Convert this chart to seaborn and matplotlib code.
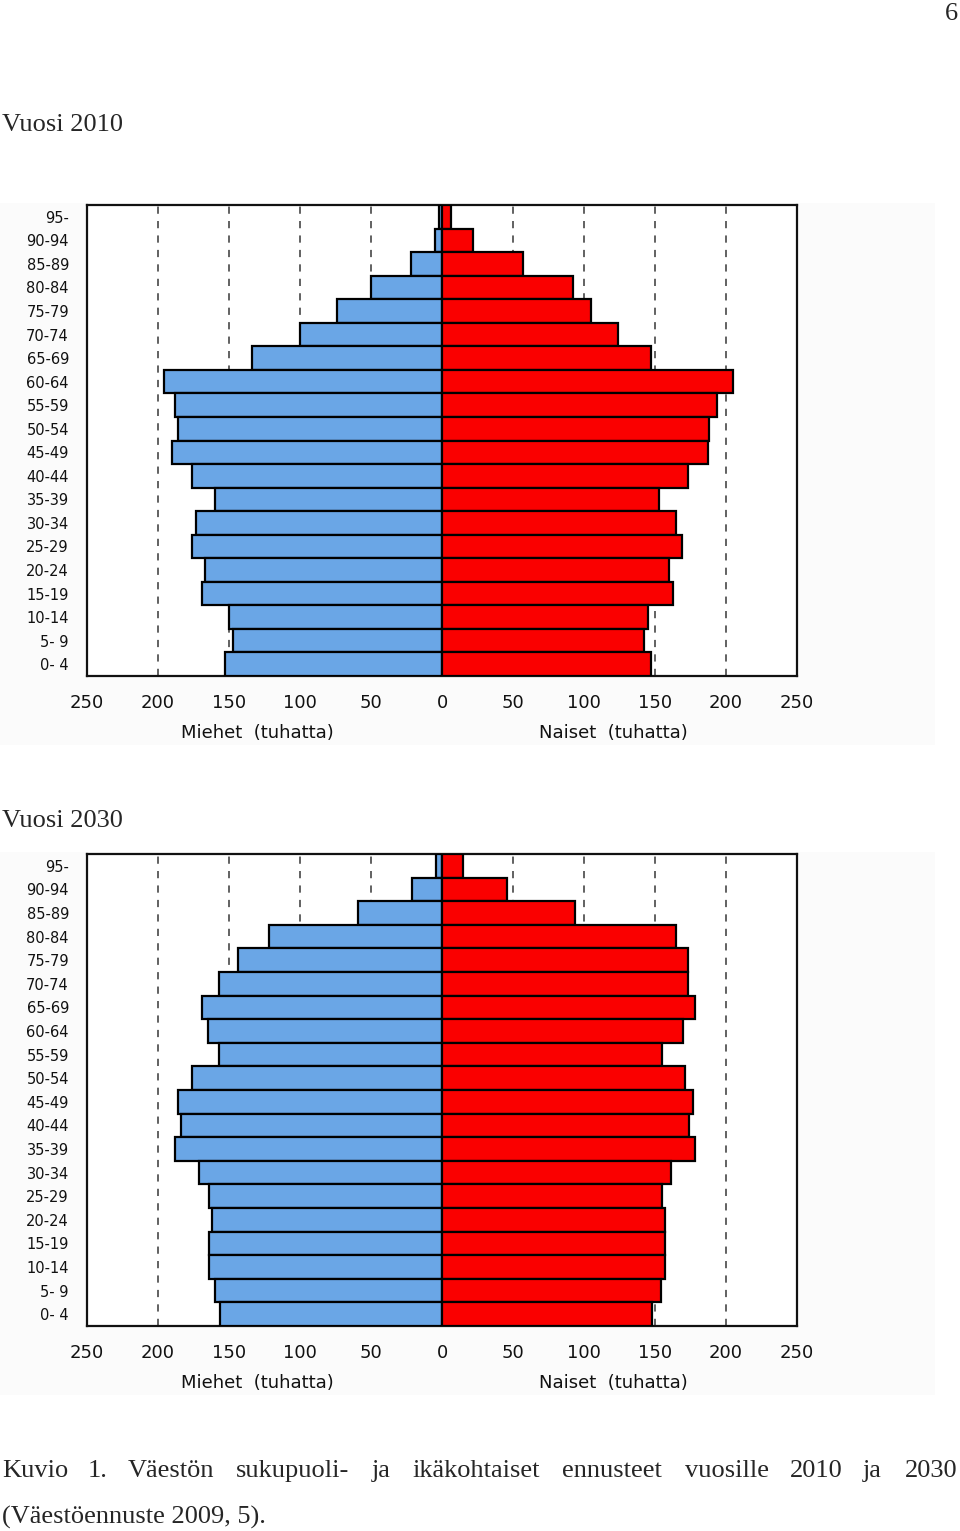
import numpy as np
import pandas as pd
import seaborn as sns
import matplotlib.pyplot as plt
from matplotlib.patches import Rectangle

ages = ["95-", "90-94", "85-89", "80-84", "75-79", "70-74", "65-69", "60-64",
        "55-59", "50-54", "45-49", "40-44", "35-39", "30-34", "25-29", "20-24",
        "15-19", "10-14", "5- 9", "0- 4"]

men_2010 = [2, 5, 22, 50, 74, 100, 134, 196, 188, 186, 190, 176, 160, 173, 176, 167, 169, 150, 147, 153]
women_2010 = [6, 22, 57, 92, 105, 124, 147, 205, 194, 188, 187, 173, 153, 165, 169, 160, 163, 145, 142, 147]
men_2030 = [4, 21, 59, 122, 144, 157, 169, 165, 157, 176, 186, 184, 188, 171, 164, 162, 164, 164, 160, 156]
women_2030 = [15, 46, 94, 165, 173, 173, 178, 170, 155, 171, 177, 174, 178, 161, 155, 157, 157, 157, 154, 148]

tick_vals = [-250, -200, -150, -100, -50, 0, 50, 100, 150, 200, 250]
tick_labels = ["250", "200", "150", "100", "50", "0", "50", "100", "150", "200", "250"]

sns.set_theme(style="white")
plt.rcParams['font.family'] = ['DejaVu Sans']

W, H = 960, 1531
fig = plt.figure(figsize=(W / 100, H / 100), dpi=100)
fig.patch.set_facecolor("white")

BLUE = "#6aa6e6"
RED = "#fa0000"


def fx(px):
    return px / W


def fy(py):
    return 1 - py / H


def pyramid(top_px, bottom_px, men, women):
    # light background panel
    fig.patches.append(Rectangle((0, fy(bottom_px + 69)), fx(935), (bottom_px + 69 - top_px + 2) / H,
                                 transform=fig.transFigure, facecolor="#fbfbfb",
                                 edgecolor="none", zorder=-10))
    ax = fig.add_axes([fx(87), fy(bottom_px), fx(797 - 87), (bottom_px - top_px) / H])
    df = pd.DataFrame({
        "age": ages * 2,
        "value": [-m for m in men] + list(women),
        "sex": ["Miehet"] * len(ages) + ["Naiset"] * len(ages),
    })
    sns.barplot(data=df, y="age", x="value", hue="sex", order=ages,
                palette={"Miehet": BLUE, "Naiset": RED}, dodge=False,
                width=1.0, orient="h", edgecolor="black", linewidth=1.6,
                saturation=1, legend=False, ax=ax, zorder=3)
    ax.set_xlim(-250, 250)
    ax.set_ylim(len(ages) - 0.5, -0.5)
    for v in [-200, -150, -100, -50, 50, 100, 150, 200]:
        ax.axvline(v, color="#555555", lw=1.3, ls=(0, (4, 4)), zorder=1)
    ax.set_xticks(tick_vals)
    ax.set_xticklabels(tick_labels, fontsize=13, color="#111111")
    ax.tick_params(axis="x", length=0, pad=13)
    ax.tick_params(axis="y", length=0, pad=13, labelsize=10.5, labelcolor="#111111")
    for lbl in ax.get_yticklabels():
        lbl.set_horizontalalignment("right")
    ax.set_xlabel("")
    ax.set_ylabel("")
    ax.set_facecolor("white")
    for s in ax.spines.values():
        s.set_visible(True)
        s.set_color("#111111")
        s.set_linewidth(1.6)
    yl = -57 / (bottom_px - top_px)
    ax.text(-130, yl, "Miehet  (tuhatta)", transform=ax.get_xaxis_transform(),
            fontsize=13, ha="center", va="center", color="#111111")
    ax.text(121, yl, "Naiset  (tuhatta)", transform=ax.get_xaxis_transform(),
            fontsize=13, ha="center", va="center", color="#111111")
    return ax


pyramid(205, 676, men_2010, women_2010)
pyramid(854, 1326, men_2030, women_2030)

serif = ['Liberation Serif', 'DejaVu Serif']
fs = 19
fig.text(fx(958), fy(14), "6", fontsize=fs, family=serif, va="center", ha="right")
fig.text(fx(2), fy(125), "Vuosi 2010", fontsize=fs, family=serif, va="center", ha="left")
fig.text(fx(2), fy(821), "Vuosi 2030", fontsize=fs, family=serif, va="center", ha="left")

words = [("Kuvio", 2), ("1.", 88), ("Väestön", 128), ("sukupuoli-", 236), ("ja", 372),
         ("ikäkohtaiset", 412), ("ennusteet", 562), ("vuosille", 685), ("2010", 790),
         ("ja", 863)]
for w, x in words:
    fig.text(fx(x), fy(1471), w, fontsize=fs, family=serif, va="center", ha="left")
fig.text(fx(958), fy(1471), "2030", fontsize=fs, family=serif, va="center", ha="right")
fig.text(fx(2), fy(1517), "(Väestöennuste 2009, 5).", fontsize=fs, family=serif,
         va="center", ha="left")

fig.savefig("out.png", dpi=100)
